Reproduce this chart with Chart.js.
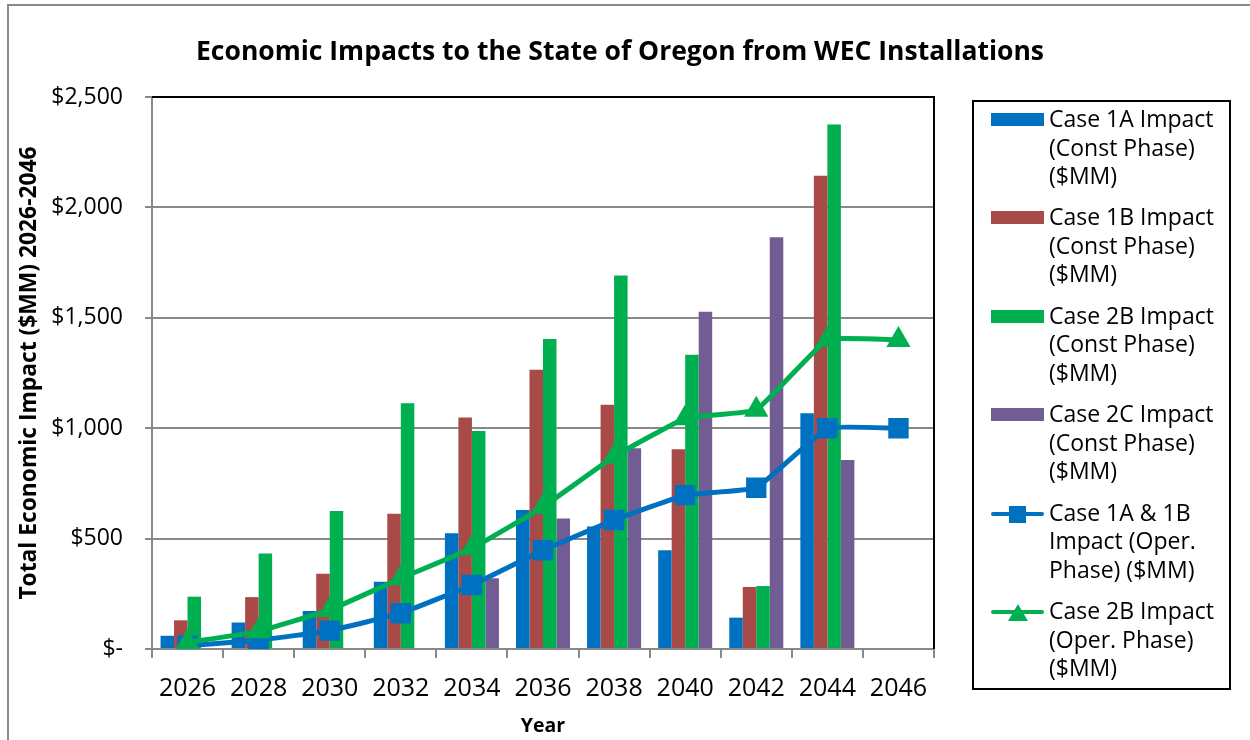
<!DOCTYPE html>
<html>
<head>
<meta charset="utf-8">
<title>Economic Impacts to the State of Oregon from WEC Installations</title>
<script src="https://cdn.jsdelivr.net/npm/chart.js@4.4.1/dist/chart.umd.min.js"></script>
<style>
  html, body { margin: 0; padding: 0; background: #fff; }
  body { width: 1250px; height: 740px; position: relative; overflow: hidden; font-family: 'Open Sans', sans-serif; }
  .frame { position: absolute; left: 7px; top: 4px; width: 1300px; height: 800px; border-top: 2px solid #8a8a8a; border-left: 2px solid #8a8a8a; }
  #chartWrap { position: absolute; left: 0; top: 0; width: 1250px; height: 740px; }
  .chart-title { position: absolute; left: 0; top: 32px; width: 1240px; text-align: center; font-size: 26.5px; line-height: 36px; font-weight: bold; color: #000; white-space: nowrap; }
  .legend { position: absolute; left: 972px; top: 100px; width: 259px; height: 590px; border: 2px solid #000; box-sizing: border-box; }
  .legend-item { position: absolute; left: 0; width: 100%; }
  .legend-text { position: absolute; left: 75px; top: 0; font-size: 23px; line-height: 28.5px; color: #000; white-space: nowrap; }
  .swatch { position: absolute; left: 17px; width: 53px; }
</style>
</head>
<body>
<div class="frame"></div>
<div id="chartWrap"><canvas id="wecChart" width="1250" height="740"></canvas></div>
<div class="chart-title">Economic Impacts to the State of Oregon from WEC Installations</div>
<div class="legend" id="legend"></div>

<script>
// ─── Data ─────────────────────────────────────────────────────
const years = ['2026', '2028', '2030', '2032', '2034', '2036', '2038', '2040', '2042', '2044', '2046'];

const case1AConst = [60, 120, 172, 305, 524, 630, 555, 447, 142, 1068, 0];
const case1BConst = [130, 235, 341, 613, 1048, 1265, 1106, 905, 281, 2143, 0];
const case2BConst = [237, 432, 625, 1113, 987, 1404, 1692, 1333, 285, 2375, 0];
const case2CConst = [0, 0, 0, 0, 320, 591, 909, 1527, 1865, 856, 0];
const case1A1BOper = [15, 40, 83, 162, 290, 447, 584, 697, 730, 1000, 1000];
const case2BOper = [30, 80, 177, 320, 456, 644, 871, 1045, 1083, 1401, 1400];

const yTicks = [0, 500, 1000, 1500, 2000, 2500];

const legendLabels = [
  ['Case 1A Impact', '(Const Phase)', '($MM)'],
  ['Case 1B Impact', '(Const Phase)', '($MM)'],
  ['Case 2B Impact', '(Const Phase)', '($MM)'],
  ['Case 2C Impact', '(Const Phase)', '($MM)'],
  ['Case 1A & 1B', 'Impact (Oper.', 'Phase) ($MM)'],
  ['Case 2B Impact', '(Oper. Phase)', '($MM)']
];

const BLUE = '#0070C0';
const RED = '#A84A47';
const GREEN = '#00B050';
const PURPLE = '#725C94';
const AXIS_GRAY = '#898989';

Chart.defaults.font.family = "'Open Sans', sans-serif";
Chart.defaults.color = '#000';

// ─── Plot area border (top + right in black) ──────────────────
const plotBorder = {
  id: 'plotBorder',
  afterDatasetsDraw(chart) {
    const { ctx, chartArea } = chart;
    ctx.save();
    ctx.strokeStyle = '#000';
    ctx.lineWidth = 2;
    ctx.beginPath();
    ctx.moveTo(chartArea.left, chartArea.top);
    ctx.lineTo(chartArea.right, chartArea.top);
    ctx.lineTo(chartArea.right, chartArea.bottom);
    ctx.stroke();
    ctx.restore();
  }
};

function barSet(label, data, color) {
  return {
    type: 'bar',
    label: label,
    data: data,
    backgroundColor: color,
    borderWidth: 0,
    categoryPercentage: 0.76,
    barPercentage: 1.0,
    order: 3
  };
}

function lineSet(label, data, color, style, radius, order) {
  return {
    type: 'line',
    label: label,
    data: data,
    borderColor: color,
    backgroundColor: color,
    borderWidth: 5,
    tension: 0.1,
    pointStyle: style,
    pointRadius: radius,
    pointHoverRadius: radius,
    pointBorderWidth: 2,
    pointBackgroundColor: color,
    pointBorderColor: color,
    order: order
  };
}

const datasets = [
  barSet(legendLabels[0].join(' '), case1AConst, BLUE),
  barSet(legendLabels[1].join(' '), case1BConst, RED),
  barSet(legendLabels[2].join(' '), case2BConst, GREEN),
  barSet(legendLabels[3].join(' '), case2CConst, PURPLE),
  lineSet(legendLabels[4].join(' '), case1A1BOper, BLUE, 'rect', 13, 2),
  lineSet(legendLabels[5].join(' '), case2BOper, GREEN, 'triangle', 12, 1)
];

// ─── Chart ────────────────────────────────────────────────────
const chart = new Chart(document.getElementById('wecChart'), {
  data: { labels: years, datasets: datasets },
  plugins: [plotBorder],
  options: {
    responsive: false,
    animation: false,
    layout: { padding: { left: 0, right: 316, top: 97, bottom: 0 } },
    plugins: {
      legend: { display: false },
      tooltip: { enabled: false },
      title: { display: false }
    },
    scales: {
      x: {
        type: 'category',
        offset: true,
        afterFit: (scale) => { scale.height = 91; },
        grid: {
          display: true,
          offset: true,
          drawOnChartArea: false,
          drawTicks: true,
          tickLength: 9,
          color: AXIS_GRAY,
          lineWidth: 2
        },
        border: { color: AXIS_GRAY, width: 2 },
        ticks: { font: { size: 25 }, color: '#000', padding: 16, maxRotation: 0, autoSkip: false },
        title: {
          display: true,
          text: 'Year',
          font: { size: 19.5, weight: 'bold' },
          color: '#000',
          padding: { top: 0, bottom: 2 }
        }
      },
      y: {
        min: 0,
        max: 2500,
        afterFit: (scale) => { scale.width = 152; },
        afterBuildTicks: (scale) => { scale.ticks = yTicks.map(v => ({ value: v })); },
        grid: { color: AXIS_GRAY, lineWidth: 2, tickLength: 7 },
        border: { color: AXIS_GRAY, width: 2 },
        ticks: {
          font: { size: 23 },
          color: '#000',
          padding: 22,
          callback: (v) => v === 0 ? '$-' : '$' + v.toLocaleString('en-US')
        },
        title: {
          display: true,
          text: 'Total Economic Impact ($MM) 2026-2046',
          font: { size: 22.8, weight: 'bold' },
          color: '#000',
          padding: { top: 16, bottom: 0 }
        }
      }
    }
  }
});

// ─── HTML legend (multi-line entries like the original) ───────
function buildLegend() {
  const box = document.getElementById('legend');
  const step = 98.4;
  chart.data.datasets.forEach((ds, i) => {
    const item = document.createElement('div');
    item.className = 'legend-item';
    item.style.top = (2 + i * step) + 'px';

    const sw = document.createElement('div');
    sw.className = 'swatch';
    if (ds.type === 'bar') {
      sw.style.top = '9px';
      sw.style.height = '13px';
      sw.style.background = ds.backgroundColor;
    } else {
      sw.style.top = '5px';
      sw.style.height = '22px';
      let marker = '';
      if (ds.pointStyle === 'rect') {
        marker = `<div style="position:absolute;left:18px;top:3px;width:17px;height:17px;background:${ds.borderColor}"></div>`;
      } else {
        marker = `<div style="position:absolute;left:17px;top:3px;width:0;height:0;border-left:10px solid transparent;border-right:10px solid transparent;border-bottom:17px solid ${ds.borderColor}"></div>`;
      }
      sw.innerHTML = `<div style="position:absolute;left:0;top:9px;width:53px;height:4px;border-radius:2px;background:${ds.borderColor}"></div>` + marker;
    }
    item.appendChild(sw);

    const txt = document.createElement('div');
    txt.className = 'legend-text';
    txt.innerHTML = legendLabels[i].map(s => s.replace(/&/g, '&amp;')).join('<br>');
    item.appendChild(txt);

    box.appendChild(item);
  });
}

buildLegend();
</script>
</body>
</html>
